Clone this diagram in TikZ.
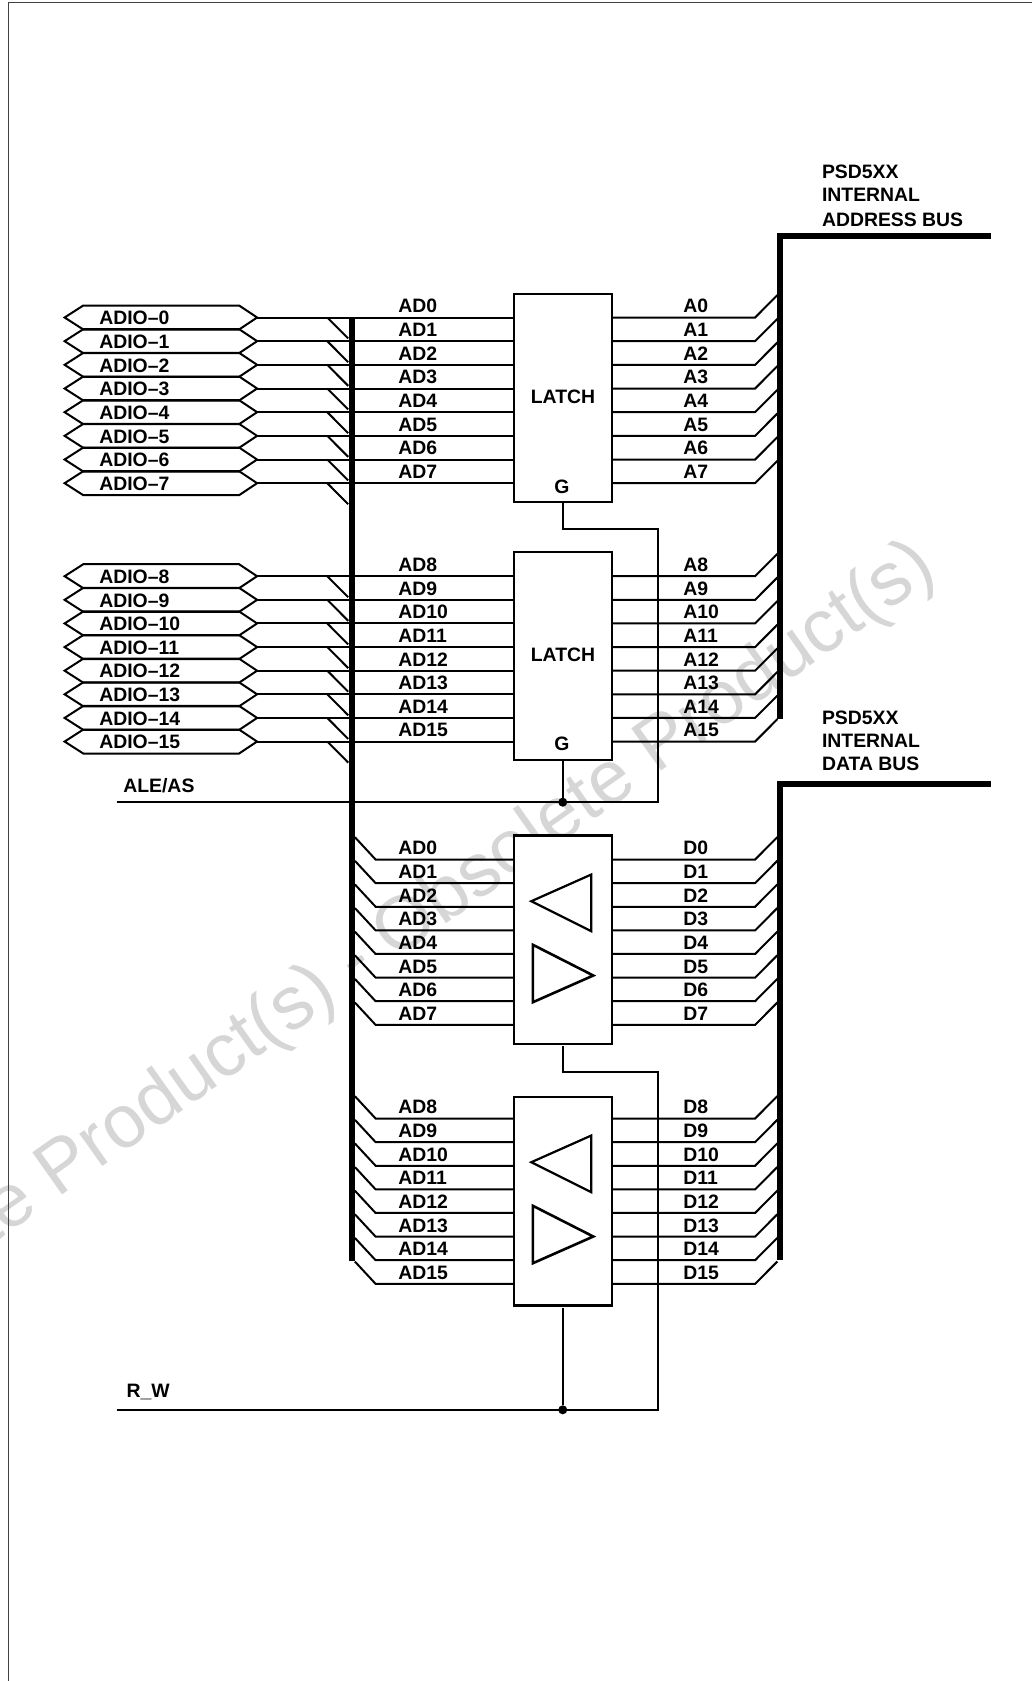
\documentclass[tikz,border=0pt]{standalone}
\usepackage{fontspec}
\setmainfont{Liberation Sans}
\tikzset{
  x=1pt,y=-1pt,
  wire/.style={draw=black,line width=2pt,line join=miter},
  busline/.style={draw=black,line width=6pt,line join=miter},
  boxn/.style={draw=black,line width=2.2pt,fill=white,minimum width=97.7pt,minimum height=#1,inner sep=0pt,outer sep=0pt},
  lab/.style={anchor=base west,inner sep=0pt,outer sep=0pt,xshift=-0.6pt,yshift=0.5pt,font=\fontsize{19.4}{21}\selectfont\bfseries,text=black},
  labc/.style={lab,anchor=base},
  tri/.style={draw=black,line width=2.2pt,line join=miter},
  junction/.style={circle,fill=black,minimum size=9pt,inner sep=0pt,outer sep=0pt},
  frameline/.style={draw=black!75,line width=1.5pt},
  wmark/.style={anchor=base east,rotate=35.3,inner sep=0pt,outer sep=0pt,text=black!16,font=\fontsize{75}{80}\selectfont}
}
\begin{document}
\begin{tikzpicture}
\useasboundingbox (0,0) rectangle (1031,1681);
\fill[white] (0,0) rectangle (1031,1681);
% watermark
\begin{scope}
\clip (0,0) rectangle (1031,1681);
\node[wmark] (wm) at (939,575) {Obsolete Product(s) - Obsolete Product(s)};
\end{scope}
% frame
\coordinate (fTL) at (8.7,2.7);
\coordinate (fTR) at (1033,2.7);
\coordinate (fBL) at (8.7,1683);
\draw[frameline] (fBL) -- (fTL) -- (fTR);
\begin{scope}[shift={(0.6,0.5)}]
% box anchors
\node[boxn=208.4pt] (L1) at (562.15,397.5) {};
\node[boxn=208.4pt] (L2) at (562.15,655.5) {};
\node[boxn=208.4pt] (B1) at (562.15,939.2) {};
\node[boxn=208.4pt] (B2) at (562.15,1200.7) {};
% control wiring
\coordinate (aleL) at (116,801.7);
\coordinate (aleR) at (657.3,801.7);
\coordinate (rwL) at (116,1409.3);
\coordinate (rwR) at (657.3,1409.3);
\coordinate (g1a) at (562.15,528.3);
\coordinate (g1b) at (657.3,528.3);
\coordinate (g3a) at (562.15,1071);
\coordinate (g3b) at (657.3,1071);
\node[junction] (j1) at (562.15,801.7) {};
\node[junction] (j2) at (562.15,1409.3) {};
\draw[wire] (aleL) -- (aleR) -- (g1b) -- (g1a) -- (L1.south);
\draw[wire] (L2.south) -- (j1);
\draw[wire] (rwL) -- (rwR) -- (g3b) -- (g3a) -- ([yshift=-2.5pt]B1.south);
\draw[wire] ([yshift=-2.5pt]B2.south) -- (j2);
% group 1 and 2: hexagons, wires
\foreach \g/\yz/\st/\base/\lbase in {1/317/23.67/0/0,2/575.7/23.62/8/8}{
  \foreach \i in {0,...,7}{
    \pgfmathsetmacro{\yy}{\yz+\st*\i}
    \pgfmathtruncatemacro{\n}{\base+\i}
    \coordinate (hL\n) at (64,\yy);
    \coordinate (hR\n) at (256.5,\yy);
    \draw[wire] (hL\n) -- (82.7,\yy-12) -- (238.5,\yy-12) -- (hR\n) -- (238.5,\yy+12) -- (82.7,\yy+12) -- cycle;
    \node[lab] (adio\n) at (99.3,\yy+7.7) {ADIO--\n};
    % to latch
    \coordinate (inL\n) at (513.3,\yy);
    \draw[wire] (hR\n) -- (inL\n);
    \coordinate (dA\n) at (326.7,\yy);
    \coordinate (dB\n) at (347.6,\yy+21);
    \draw[wire] (dA\n) -- (dB\n);
    \node[lab] (ad\n) at (398.3,\yy-4.1) {AD\n};
    % out of latch
    \coordinate (oR\n) at (611,\yy);
    \coordinate (oK\n) at (754.5,\yy);
    \coordinate (oB\n) at (776.8,\yy-22.4);
    \draw[wire] (oR\n) -- (oK\n) -- (oB\n);
    \node[lab] (a\n) at (683.3,\yy-4.1) {A\n};
  }
}
% group 3 and 4: transceivers
\foreach \g/\yz/\st/\base/\tag in {3/859/23.62/0/p,4/1118/23.62/8/q}{
  \foreach \i in {0,...,7}{
    \pgfmathsetmacro{\yy}{\yz+\st*\i}
    \pgfmathtruncatemacro{\n}{\base+\i}
    \coordinate (lB\tag\n) at (354.3,\yy-22.3);
    \coordinate (lK\tag\n) at (375,\yy);
    \coordinate (lE\tag\n) at (513.3,\yy);
    \draw[wire] (lB\tag\n) -- (lK\tag\n) -- (lE\tag\n);
    \node[lab] (tad\tag\n) at (398.3,\yy-4.1) {AD\n};
    \coordinate (rE\tag\n) at (611,\yy);
    \coordinate (rK\tag\n) at (754.5,\yy);
    \coordinate (rB\tag\n) at (776.8,\yy-22.4);
    \draw[wire] (rE\tag\n) -- (rK\tag\n) -- (rB\tag\n);
    \node[lab] (d\tag\n) at (683.3,\yy-4.1) {D\n};
  }
}
% buses
\coordinate (bLt) at (351,317);
\coordinate (bLb) at (351,1260.7);
\coordinate (a1) at (990,235.7);
\coordinate (a2) at (779.3,235.7);
\coordinate (a3) at (779.3,718);
\coordinate (d1) at (990,783.3);
\coordinate (d2) at (779.3,783.3);
\coordinate (d3) at (779.3,1259);
\draw[busline] (bLt) -- (bLb);
\draw[busline] (a1) -- (a2) -- (a3);
\draw[busline] (d1) -- (d2) -- (d3);
% triangles
\foreach \dy in {0,261}{
  \draw[tri] (530.7,900.7+\dy) -- (590.7,874+\dy) -- (590.7,930.7+\dy) -- cycle;
  \draw[tri,line width=2.6pt] (532.3,944.3+\dy) -- (592.7,975+\dy) -- (532.3,1001.7+\dy) -- cycle;
}
% box labels
\node[labc] (t1) at (563,403.3) {LATCH};
\node[labc] (t2) at (563,661) {LATCH};
\node[labc] (g1) at (562,493.3) {G};
\node[labc] (g2) at (562,750.7) {G};
% bus labels
\node[lab] (p1) at (822,178) {PSD5XX};
\node[lab] (p2) at (822,201.7) {INTERNAL};
\node[lab] (p3) at (822,226) {ADDRESS BUS};
\node[lab] (q1) at (822,724) {PSD5XX};
\node[lab] (q2) at (822,747.3) {INTERNAL};
\node[lab] (q3) at (822,770.7) {DATA BUS};
\node[lab] (ale) at (123.3,792.7) {ALE/AS};
\node[lab] (rw) at (126.7,1397.3) {R\_W};
\end{scope}
\end{tikzpicture}
\end{document}
